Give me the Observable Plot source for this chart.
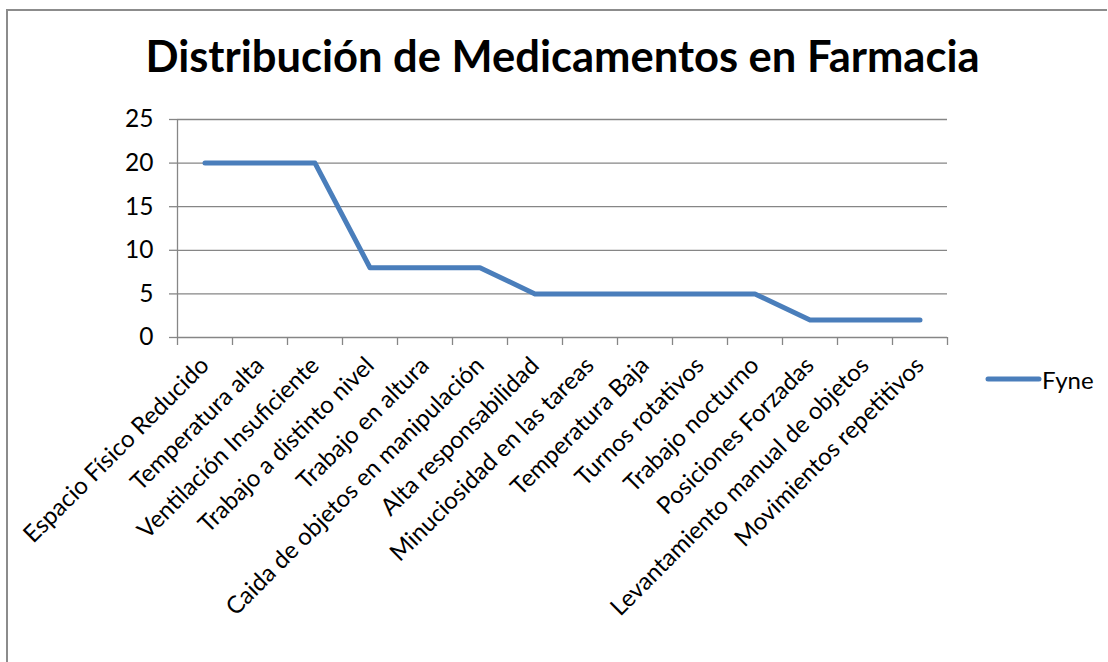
<!DOCTYPE html>
<html>
<head>
<meta charset="utf-8">
<script src="https://cdn.jsdelivr.net/npm/d3@7"></script>
<script src="https://cdn.jsdelivr.net/npm/@observablehq/plot@0.6"></script>
<style>
  html, body { margin: 0; padding: 0; background: #fff; overflow: hidden; }
  #wrap { position: relative; width: 1108px; height: 662px; overflow: hidden; font-family: Lato, "Open Sans", sans-serif; }
  #fl { position: absolute; left: 6px; top: 9px; width: 2px; height: 660px; background: #8c8c8c; }
  #ft { position: absolute; left: 6px; top: 9px; width: 1101px; height: 2px; background: #8c8c8c; }
  #title { position: absolute; left: 0; width: 1108px; box-sizing: border-box; padding-left: 17px; top: 34px; text-align: center; font-weight: bold; font-size: 43.5px; color: #000; line-height: 1; white-space: nowrap; }
  #chart { position: absolute; left: 0; top: 0; }
  #legend { position: absolute; left: 984px; top: 364px; display: flex; align-items: center; font-size: 24px; color: #000; }
</style>
</head>
<body>
<div id="wrap">
  <div id="fl"></div>
  <div id="ft"></div>
  <div id="chart"></div>
  <div id="title"></div>
  <div id="legend"></div>
</div>
<script>
const title = "Distribución de Medicamentos en Farmacia";
const seriesName = "Fyne";
const categories = [
  "Espacio Físico Reducido",
  "Temperatura alta",
  "Ventilación Insuficiente",
  "Trabajo a distinto nivel",
  "Trabajo en altura",
  "Caida de objetos en manipulación",
  "Alta responsabilidad",
  "Minuciosidad en las tareas",
  "Temperatura Baja",
  "Turnos rotativos",
  "Trabajo nocturno",
  "Posiciones Forzadas",
  "Levantamiento manual de objetos",
  "Movimientos repetitivos"
];
const values = [20, 20, 20, 8, 8, 8, 5, 5, 5, 5, 5, 2, 2, 2];
const yTicks = [0, 5, 10, 15, 20, 25];

const lineColor = "#4a7ebb";
const gridColor = "#868686";

document.getElementById("title").textContent = title;

const data = categories.map((c, i) => ({i, c, v: values[i]}));
const n = categories.length;
const bounds = d3.range(n + 1).map(i => i - 0.5);
const centers = d3.range(n);

const plot = Plot.plot({
  width: 1108,
  height: 662,
  marginLeft: 177,
  marginRight: 161,
  marginTop: 119,
  marginBottom: 325,
  style: {fontFamily: "Lato, 'Open Sans', sans-serif", color: "#000", background: "transparent"},
  x: {type: "linear", domain: [-0.5, n - 0.5]},
  y: {domain: [0, 25]},
  marks: [
    Plot.ruleY(yTicks, {stroke: gridColor, strokeWidth: 1.3}),
    Plot.ruleX([-0.5], {stroke: gridColor, strokeWidth: 1.3}),
    Plot.axisY({ticks: yTicks, tickSize: 8, tickPadding: 16, fontSize: 24.5, stroke: gridColor, strokeWidth: 1.3, label: null}),
    Plot.axisX({ticks: bounds, tickSize: 8, tickFormat: () => "", stroke: gridColor, strokeWidth: 1.3, label: null}),
    Plot.axisX({ticks: centers, tickSize: 0, tickPadding: 24, tickRotate: -45, fontSize: 24, tickFormat: i => categories[i], label: null}),
    Plot.line(data, {x: "i", y: "v", stroke: lineColor, strokeWidth: 5, strokeLinecap: "round", strokeLinejoin: "round"})
  ]
});
document.getElementById("chart").appendChild(plot);

const leg = document.getElementById("legend");
leg.innerHTML = `<svg width="58" height="30"><line x1="4" y1="15" x2="55" y2="15" stroke="${lineColor}" stroke-width="5" stroke-linecap="round"/></svg><span>${seriesName}</span>`;
</script>
</body>
</html>
